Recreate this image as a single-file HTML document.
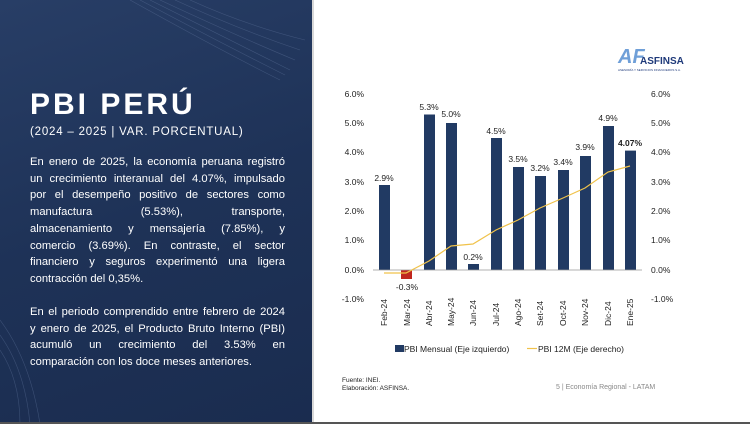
<!DOCTYPE html>
<html><head><meta charset="utf-8"><style>
*{margin:0;padding:0;box-sizing:border-box}
body{width:750px;height:424px;overflow:hidden;background:#fff;font-family:"Liberation Sans",sans-serif;position:relative}
#left{position:absolute;left:0;top:0;width:312px;height:424px;background:linear-gradient(160deg,#283e66 0%,#1e3257 50%,#1a2c4f 100%);color:#fff}
#left h1{position:absolute;left:30px;top:88px;font-size:30px;font-weight:bold;letter-spacing:3px}
#left .sub{position:absolute;left:30px;top:126px;font-size:11.5px;letter-spacing:0.8px}
#left .p{position:absolute;left:30px;width:255px;font-size:11.2px;line-height:16.7px}
#left .p div{text-align:justify;text-align-last:justify;white-space:nowrap}
#left .p div.l{text-align-last:left}
#sep{position:absolute;left:312px;top:0;width:2px;height:424px;background:#d8d8d8}
#bottom{position:absolute;left:0;top:422px;width:750px;height:2px;background:#555}
</style></head><body>
<div id="left">
<svg width="312" height="424" style="position:absolute;left:0;top:0" fill="none" stroke="#5a6f96" stroke-width="0.6" opacity="0.5">
<path d="M150 0 Q230 40 290 70"/><path d="M140 0 Q225 45 285 75"/><path d="M130 0 Q220 50 280 80"/><path d="M160 0 Q235 35 295 60"/><path d="M175 0 Q240 30 300 50"/><path d="M190 0 Q245 25 305 40"/>
<path d="M0 320 Q30 360 40 424"/><path d="M0 335 Q25 370 30 424"/><path d="M0 350 Q20 380 20 424"/>
</svg>
<h1>PBI PERÚ</h1>
<div class="sub">(2024 – 2025 | VAR. PORCENTUAL)</div>
<div class="p" style="top:154px">
<div style="display:flex;justify-content:space-between"><span>En</span><span>enero</span><span>de</span><span>2025,</span><span>la</span><span>economía</span><span>peruana</span><span>registró</span></div>
<div style="display:flex;justify-content:space-between"><span>un</span><span>crecimiento</span><span>interanual</span><span>del</span><span>4.07%,</span><span>impulsado</span></div>
<div style="display:flex;justify-content:space-between"><span>por</span><span>el</span><span>desempeño</span><span>positivo</span><span>de</span><span>sectores</span><span>como</span></div>
<div style="display:flex;justify-content:space-between"><span>manufactura</span><span>(5.53%),</span><span>transporte,</span></div>
<div style="display:flex;justify-content:space-between"><span>almacenamiento</span><span>y</span><span>mensajería</span><span>(7.85%),</span><span>y</span></div>
<div style="display:flex;justify-content:space-between"><span>comercio</span><span>(3.69%).</span><span>En</span><span>contraste,</span><span>el</span><span>sector</span></div>
<div style="display:flex;justify-content:space-between"><span>financiero</span><span>y</span><span>seguros</span><span>experimentó</span><span>una</span><span>ligera</span></div>
<div class="l">contracción del 0,35%.</div>
</div>
<div class="p" style="top:304px">
<div style="display:flex;justify-content:space-between"><span>En</span><span>el</span><span>periodo</span><span>comprendido</span><span>entre</span><span>febrero</span><span>de</span><span>2024</span></div>
<div style="display:flex;justify-content:space-between"><span>y</span><span>enero</span><span>de</span><span>2025,</span><span>el</span><span>Producto</span><span>Bruto</span><span>Interno</span><span>(PBI)</span></div>
<div style="display:flex;justify-content:space-between"><span>acumuló</span><span>un</span><span>crecimiento</span><span>del</span><span>3.53%</span><span>en</span></div>
<div class="l">comparación con los doce meses anteriores.</div>
</div>
</div>
<div id="sep"></div>
<div style="position:absolute;left:618px;top:46px;font-size:20px;font-weight:bold;color:#6f9fd8;font-style:italic">AF</div>
<div style="position:absolute;left:640px;top:56px;font-size:10px;font-weight:bold;color:#1f3a7a">ASFINSA</div>
<div style="position:absolute;left:618px;top:68px;font-size:3px;color:#1f3a7a">ASESORÍA Y SERVICIOS FINANCIEROS S.A.</div>
<svg width="750" height="424" style="position:absolute;left:0;top:0" font-family="Liberation Sans,sans-serif" font-size="8.5" fill="#222">
<g text-anchor="end">
<text x="364" y="97">6.0%</text><text x="364" y="126">5.0%</text><text x="364" y="155">4.0%</text><text x="364" y="185">3.0%</text><text x="364" y="214">2.0%</text><text x="364" y="243">1.0%</text><text x="364" y="273">0.0%</text><text x="364" y="302">-1.0%</text>
</g>
<g>
<text x="651" y="97">6.0%</text><text x="651" y="126">5.0%</text><text x="651" y="155">4.0%</text><text x="651" y="185">3.0%</text><text x="651" y="214">2.0%</text><text x="651" y="243">1.0%</text><text x="651" y="273">0.0%</text><text x="651" y="302">-1.0%</text>
</g>
<g fill="#213a63">
<rect x="379" y="185" width="11" height="85"/>
<rect x="424" y="114.5" width="11" height="155.5"/>
<rect x="446" y="123" width="11" height="147"/>
<rect x="468" y="264" width="11" height="6"/>
<rect x="491" y="138" width="11" height="132"/>
<rect x="513" y="167" width="11" height="103"/>
<rect x="535" y="176" width="11" height="94"/>
<rect x="558" y="170" width="11" height="100"/>
<rect x="580" y="156" width="11" height="114"/>
<rect x="603" y="126" width="11" height="144"/>
<rect x="625" y="150.6" width="11" height="119.4"/>
</g>
<rect x="401" y="270" width="11" height="9" fill="#c0261e"/>
<line x1="373" y1="270" x2="642" y2="270" stroke="#999" stroke-width="0.8"/>
<polyline fill="none" stroke="#f0c24a" stroke-width="1.2" points="384,273 406,273 429,261 451,246 473,244 496,230 518,220 540,208 563,198 585,188 608,172 630,166"/>
<g text-anchor="middle">
<text x="384" y="181">2.9%</text><text x="407" y="290">-0.3%</text><text x="429" y="110">5.3%</text><text x="451" y="117">5.0%</text><text x="473" y="260">0.2%</text><text x="496" y="134">4.5%</text><text x="518" y="162">3.5%</text><text x="540" y="171">3.2%</text><text x="563" y="165">3.4%</text><text x="585" y="150">3.9%</text><text x="608" y="121">4.9%</text><text x="630" y="146" font-weight="bold">4.07%</text>
</g>
<g>
<text transform="translate(387,326) rotate(-90)">Feb-24</text>
<text transform="translate(410,326) rotate(-90)">Mar-24</text>
<text transform="translate(432,326) rotate(-90)">Abr-24</text>
<text transform="translate(454,326) rotate(-90)">May-24</text>
<text transform="translate(476,326) rotate(-90)">Jun-24</text>
<text transform="translate(499,326) rotate(-90)">Jul-24</text>
<text transform="translate(521,326) rotate(-90)">Ago-24</text>
<text transform="translate(543,326) rotate(-90)">Set-24</text>
<text transform="translate(566,326) rotate(-90)">Oct-24</text>
<text transform="translate(588,326) rotate(-90)">Nov-24</text>
<text transform="translate(611,326) rotate(-90)">Dic-24</text>
<text transform="translate(633,326) rotate(-90)">Ene-25</text>
</g>
<rect x="395" y="345" width="9" height="7" fill="#213a63"/>
<text x="404" y="352">PBI Mensual (Eje izquierdo)</text>
<line x1="527" y1="348.5" x2="537" y2="348.5" stroke="#f0c24a" stroke-width="1.2"/>
<text x="538" y="352">PBI 12M (Eje derecho)</text>
<text x="342" y="382" font-size="6.5">Fuente: INEI.</text>
<text x="342" y="390" font-size="6.5">Elaboración: ASFINSA.</text>
<text x="556" y="389" font-size="7" fill="#888">5 | Economía Regional - LATAM</text>
</svg>
<div id="bottom"></div>
</body></html>
